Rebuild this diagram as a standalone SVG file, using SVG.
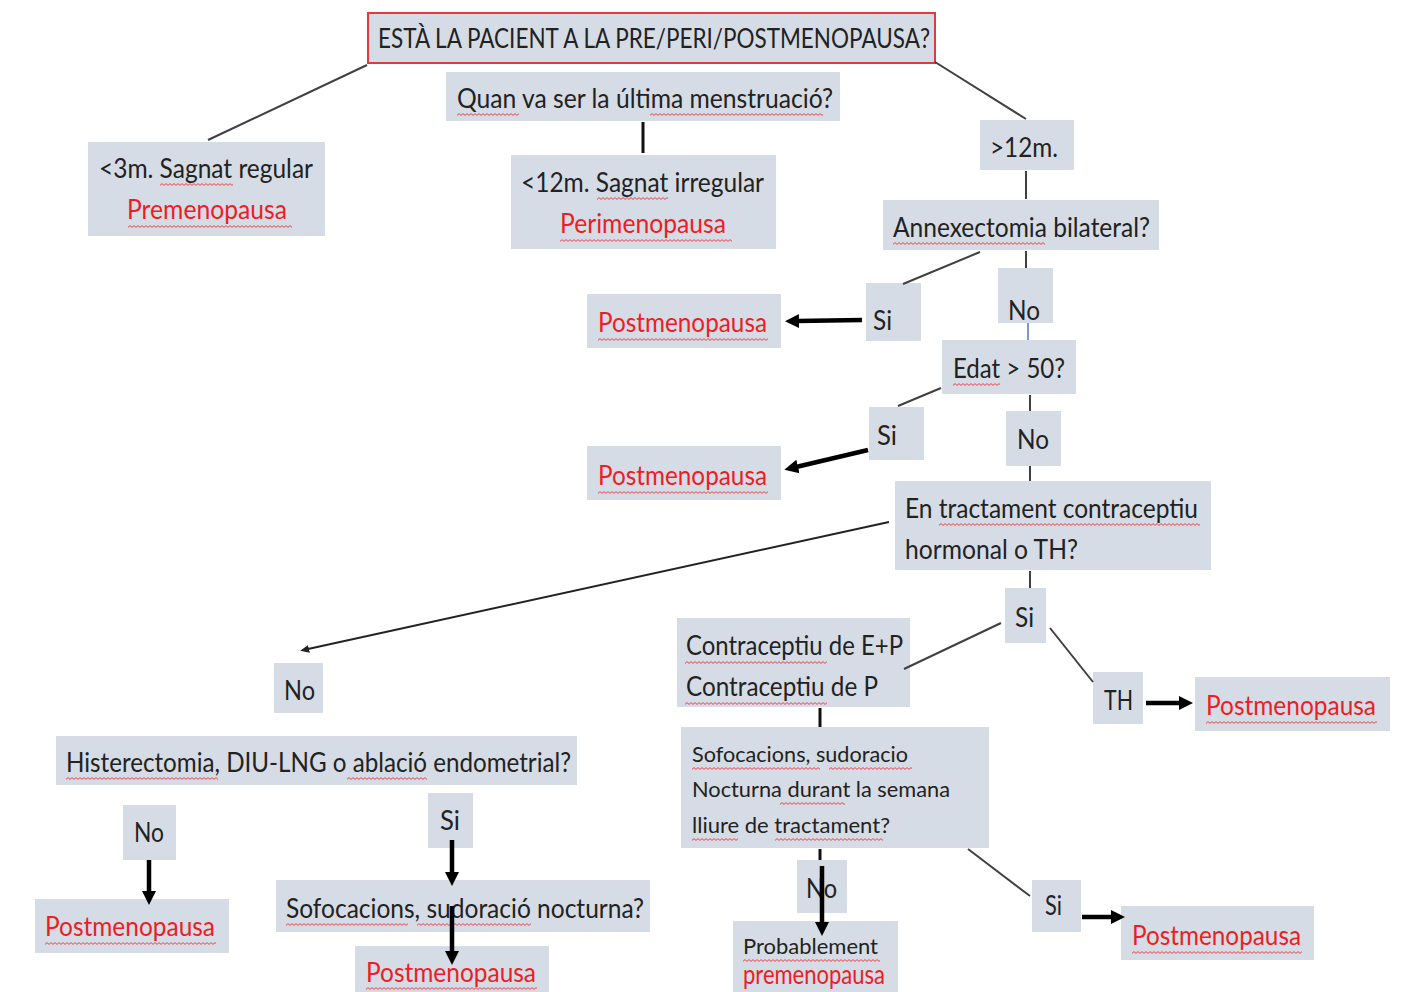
<svg xmlns="http://www.w3.org/2000/svg" width="1403" height="992" viewBox="0 0 1403 992">
<style>
.bg{fill:#ffffff}
.box{fill:#d6dce5}
.t{font-family:Lato,"Open Sans","Liberation Sans",sans-serif;font-size:26px;fill:#222222}
.sm{font-size:22px}
.r{fill:#ee1c24}
.sq{fill:url(#wv)}
.ln{stroke:#404040;stroke-width:2;fill:none}
.lk{stroke:#111111;stroke-width:3;fill:none}
.ar{stroke:#000000;stroke-width:4.5;fill:none;marker-end:url(#ah)}
.at{stroke:#222222;stroke-width:2;fill:none;marker-end:url(#as)}
</style>
<defs>
<pattern id="wv" x="0" y="0" width="4" height="3" patternUnits="userSpaceOnUse">
<path d="M0,2.4 L2,0.6 L4,2.4" stroke="#e8323a" stroke-width="0.9" fill="none"/>
</pattern>
<marker id="ah" markerUnits="userSpaceOnUse" markerWidth="16" markerHeight="16" refX="2" refY="8" orient="auto">
<path d="M0,1 L14,8 L0,15 z" fill="#000000"/>
</marker>
<marker id="as" markerUnits="userSpaceOnUse" markerWidth="10" markerHeight="10" refX="1" refY="5" orient="auto">
<path d="M0,1 L9,5 L0,9 z" fill="#222222"/>
</marker>
</defs>
<rect class="bg" x="0" y="0" width="1403" height="992"/>

<g id="title">
<rect x="368" y="13" width="567" height="50" fill="#d6dce5" stroke="#e2383e" stroke-width="2"/>
<text class="t" x="378" y="48" textLength="552" lengthAdjust="spacingAndGlyphs">ESTÀ LA PACIENT A LA PRE/PERI/POSTMENOPAUSA?</text>
</g>

<g id="quan">
<rect class="box" x="446" y="72" width="394" height="49"/>
<text class="t" x="457" y="108" textLength="376" lengthAdjust="spacingAndGlyphs">Quan va ser la última menstruació?</text>
<rect class="sq" transform="translate(457,113)" width="62" height="3"/>
<rect class="sq" transform="translate(650,113)" width="173" height="3"/>
</g>

<g id="pre">
<rect class="box" x="88" y="142" width="237" height="94"/>
<text class="t" x="99" y="178" textLength="214" lengthAdjust="spacingAndGlyphs">&lt;3m. Sagnat regular</text>
<text class="t r" x="127" y="219" textLength="160" lengthAdjust="spacingAndGlyphs">Premenopausa</text>
<rect class="sq" transform="translate(160,183)" width="73" height="3"/>
<rect class="sq" transform="translate(128,225)" width="164" height="3"/>
</g>

<g id="peri">
<rect class="box" x="511" y="155" width="265" height="94"/>
<text class="t" x="521" y="192" textLength="243" lengthAdjust="spacingAndGlyphs">&lt;12m. Sagnat irregular</text>
<text class="t r" x="560" y="233" textLength="166" lengthAdjust="spacingAndGlyphs">Perimenopausa</text>
<rect class="sq" transform="translate(597,197)" width="71" height="3"/>
<rect class="sq" transform="translate(560,239)" width="172" height="3"/>
</g>

<g id="m12">
<rect class="box" x="980" y="120" width="94" height="50"/>
<text class="t" x="990" y="157" textLength="68" lengthAdjust="spacingAndGlyphs">&gt;12m.</text>
</g>

<g id="annex">
<rect class="box" x="883" y="200" width="276" height="50"/>
<text class="t" x="893" y="237" textLength="257" lengthAdjust="spacingAndGlyphs">Annexectomia bilateral?</text>
<rect class="sq" transform="translate(893,242)" width="152" height="3"/>
</g>

<g id="si1">
<rect class="box" x="866" y="283" width="55" height="58"/>
<text class="t" x="873" y="330" textLength="19" lengthAdjust="spacingAndGlyphs">Si</text>
</g>

<g id="post1">
<rect class="box" x="587" y="294" width="194" height="54"/>
<text class="t r" x="598" y="332" textLength="169" lengthAdjust="spacingAndGlyphs">Postmenopausa</text>
<rect class="sq" transform="translate(598,338)" width="170" height="3"/>
</g>

<g id="no1">
<rect class="box" x="998" y="268" width="55" height="55"/>
<text class="t" x="1008" y="320" textLength="32" lengthAdjust="spacingAndGlyphs">No</text>
</g>

<g id="edat">
<rect class="box" x="942" y="340" width="134" height="54"/>
<text class="t" x="953" y="378" textLength="112" lengthAdjust="spacingAndGlyphs">Edat &gt; 50?</text>
<rect class="sq" transform="translate(953,383)" width="47" height="3"/>
</g>

<g id="si2">
<rect class="box" x="869" y="407" width="55" height="53"/>
<text class="t" x="877" y="445" textLength="20" lengthAdjust="spacingAndGlyphs">Si</text>
</g>

<g id="post2">
<rect class="box" x="587" y="446" width="194" height="54"/>
<text class="t r" x="598" y="485" textLength="169" lengthAdjust="spacingAndGlyphs">Postmenopausa</text>
<rect class="sq" transform="translate(598,491)" width="170" height="3"/>
</g>

<g id="no2">
<rect class="box" x="1006" y="411" width="55" height="55"/>
<text class="t" x="1017" y="449" textLength="32" lengthAdjust="spacingAndGlyphs">No</text>
</g>

<g id="tract">
<rect class="box" x="895" y="481" width="316" height="89"/>
<text class="t" x="905" y="518" textLength="293" lengthAdjust="spacingAndGlyphs">En tractament contraceptiu</text>
<text class="t" x="905" y="559" textLength="173" lengthAdjust="spacingAndGlyphs">hormonal o TH?</text>
<rect class="sq" transform="translate(939,523)" width="261" height="3"/>
</g>

<g id="si3">
<rect class="box" x="1005" y="588" width="41" height="55"/>
<text class="t" x="1015" y="627" textLength="19" lengthAdjust="spacingAndGlyphs">Si</text>
</g>

<g id="contra">
<rect class="box" x="677" y="618" width="233" height="89"/>
<text class="t" x="686" y="655" textLength="217" lengthAdjust="spacingAndGlyphs">Contraceptiu de E+P</text>
<text class="t" x="686" y="696" textLength="192" lengthAdjust="spacingAndGlyphs">Contraceptiu de P</text>
<rect class="sq" transform="translate(685,661)" width="142" height="3"/>
<rect class="sq" transform="translate(685,702)" width="142" height="3"/>
</g>

<g id="th">
<rect class="box" x="1093" y="672" width="50" height="52"/>
<text class="t" x="1104" y="710" textLength="29" lengthAdjust="spacingAndGlyphs">TH</text>
</g>

<g id="post3">
<rect class="box" x="1195" y="677" width="195" height="54"/>
<text class="t r" x="1206" y="715" textLength="170" lengthAdjust="spacingAndGlyphs">Postmenopausa</text>
<rect class="sq" transform="translate(1206,721)" width="171" height="3"/>
</g>

<g id="no3">
<rect class="box" x="274" y="663" width="49" height="50"/>
<text class="t" x="284" y="700" textLength="31" lengthAdjust="spacingAndGlyphs">No</text>
</g>

<g id="hister">
<rect class="box" x="56" y="736" width="521" height="49"/>
<text class="t" x="66" y="772" textLength="505" lengthAdjust="spacingAndGlyphs">Histerectomia, DIU-LNG o ablació endometrial?</text>
<rect class="sq" transform="translate(66,777)" width="152" height="3"/>
<rect class="sq" transform="translate(347,777)" width="80" height="3"/>
</g>

<g id="sofoc1">
<rect class="box" x="681" y="727" width="308" height="121"/>
<text class="t sm" x="692" y="762" textLength="216" lengthAdjust="spacingAndGlyphs">Sofocacions, sudoracio</text>
<text class="t sm" x="692" y="797" textLength="258" lengthAdjust="spacingAndGlyphs">Nocturna durant la semana</text>
<text class="t sm" x="692" y="833" textLength="198" lengthAdjust="spacingAndGlyphs">lliure de tractament?</text>
<rect class="sq" transform="translate(692,767)" width="128" height="3"/>
<rect class="sq" transform="translate(829,767)" width="83" height="3"/>
<rect class="sq" transform="translate(780,802)" width="65" height="3"/>
<rect class="sq" transform="translate(692,838)" width="46" height="3"/>
<rect class="sq" transform="translate(775,838)" width="108" height="3"/>
</g>

<g id="no4">
<rect class="box" x="123" y="805" width="53" height="55"/>
<text class="t" x="134" y="842" textLength="30" lengthAdjust="spacingAndGlyphs">No</text>
</g>

<g id="post4">
<rect class="box" x="35" y="899" width="194" height="54"/>
<text class="t r" x="45" y="936" textLength="170" lengthAdjust="spacingAndGlyphs">Postmenopausa</text>
<rect class="sq" transform="translate(45,942)" width="171" height="3"/>
</g>

<g id="si4">
<rect class="box" x="428" y="793" width="45" height="55"/>
<text class="t" x="440" y="830" textLength="20" lengthAdjust="spacingAndGlyphs">Si</text>
</g>

<g id="sofoc2">
<rect class="box" x="276" y="880" width="374" height="52"/>
<text class="t" x="286" y="918" textLength="358" lengthAdjust="spacingAndGlyphs">Sofocacions, sudoració nocturna?</text>
<rect class="sq" transform="translate(286,923)" width="122" height="3"/>
<rect class="sq" transform="translate(417,923)" width="114" height="3"/>
</g>

<g id="post5">
<rect class="box" x="355" y="946" width="194" height="46"/>
<text class="t r" x="366" y="982" textLength="170" lengthAdjust="spacingAndGlyphs">Postmenopausa</text>
<rect class="sq" transform="translate(366,987)" width="171" height="3"/>
</g>

<g id="no5">
<rect class="box" x="797" y="860" width="50" height="53"/>
<text class="t" x="806" y="898" textLength="31" lengthAdjust="spacingAndGlyphs">No</text>
</g>

<g id="probab">
<rect class="box" x="733" y="921" width="165" height="71"/>
<text class="t sm" x="743" y="954" textLength="135" lengthAdjust="spacingAndGlyphs">Probablement</text>
<text class="t r" x="743" y="984" font-size="22" textLength="142" lengthAdjust="spacingAndGlyphs">premenopausa</text>
<rect class="sq" transform="translate(743,959)" width="137" height="3"/>
</g>

<g id="si5">
<rect class="box" x="1032" y="880" width="49" height="52"/>
<text class="t" x="1045" y="915" textLength="17" lengthAdjust="spacingAndGlyphs">Si</text>
</g>

<g id="post6">
<rect class="box" x="1121" y="906" width="193" height="54"/>
<text class="t r" x="1132" y="945" textLength="169" lengthAdjust="spacingAndGlyphs">Postmenopausa</text>
<rect class="sq" transform="translate(1132,951)" width="170" height="3"/>
</g>

<g id="connectors">
<line class="ln" x1="367" y1="65" x2="208" y2="140"/>
<line class="ln" x1="935" y1="62" x2="1026" y2="119"/>
<line class="lk" x1="643" y1="122" x2="643" y2="153"/>
<line class="ln" x1="1026" y1="171" x2="1026" y2="199" stroke="#5a5a5a" stroke-width="2.5"/>
<line class="ln" x1="980" y1="252" x2="903" y2="284"/>
<line class="ln" x1="1026" y1="251" x2="1026" y2="268" stroke="#5a5a5a" stroke-width="2.5"/>
<line x1="1028" y1="323" x2="1028" y2="340" stroke="#4a78c8" stroke-width="1.5"/>
<line class="ar" x1="862" y1="320" x2="797" y2="321"/>
<line class="ln" x1="941" y1="388" x2="898" y2="406"/>
<line class="ln" x1="1030" y1="395" x2="1030" y2="411" stroke="#5a5a5a" stroke-width="2.5"/>
<line class="ar" x1="868" y1="450" x2="796" y2="467"/>
<line class="ln" x1="1030" y1="466" x2="1030" y2="481" stroke="#5a5a5a" stroke-width="2.5"/>
<line class="at" x1="889" y1="522" x2="308" y2="649"/>
<line class="ln" x1="1030" y1="571" x2="1030" y2="588" stroke="#5a5a5a" stroke-width="2.5"/>
<line class="ln" x1="1001" y1="623" x2="904" y2="669"/>
<line class="ln" x1="1050" y1="628" x2="1093" y2="682"/>
<line class="ar" x1="1146" y1="703" x2="1181" y2="703"/>
<line class="lk" x1="820" y1="708" x2="820" y2="727"/>
<line class="lk" x1="820" y1="849" x2="820" y2="860"/>
<line class="ln" x1="968" y1="849" x2="1030" y2="896"/>
<line class="ar" x1="822" y1="866" x2="822" y2="924"/>
<line class="ar" x1="1082" y1="917" x2="1113" y2="917"/>
<line class="ar" x1="149" y1="860" x2="149" y2="893"/>
<line class="ar" x1="452" y1="840" x2="452" y2="874"/>
<line class="ar" x1="452" y1="906" x2="452" y2="953"/>
</g>
</svg>
